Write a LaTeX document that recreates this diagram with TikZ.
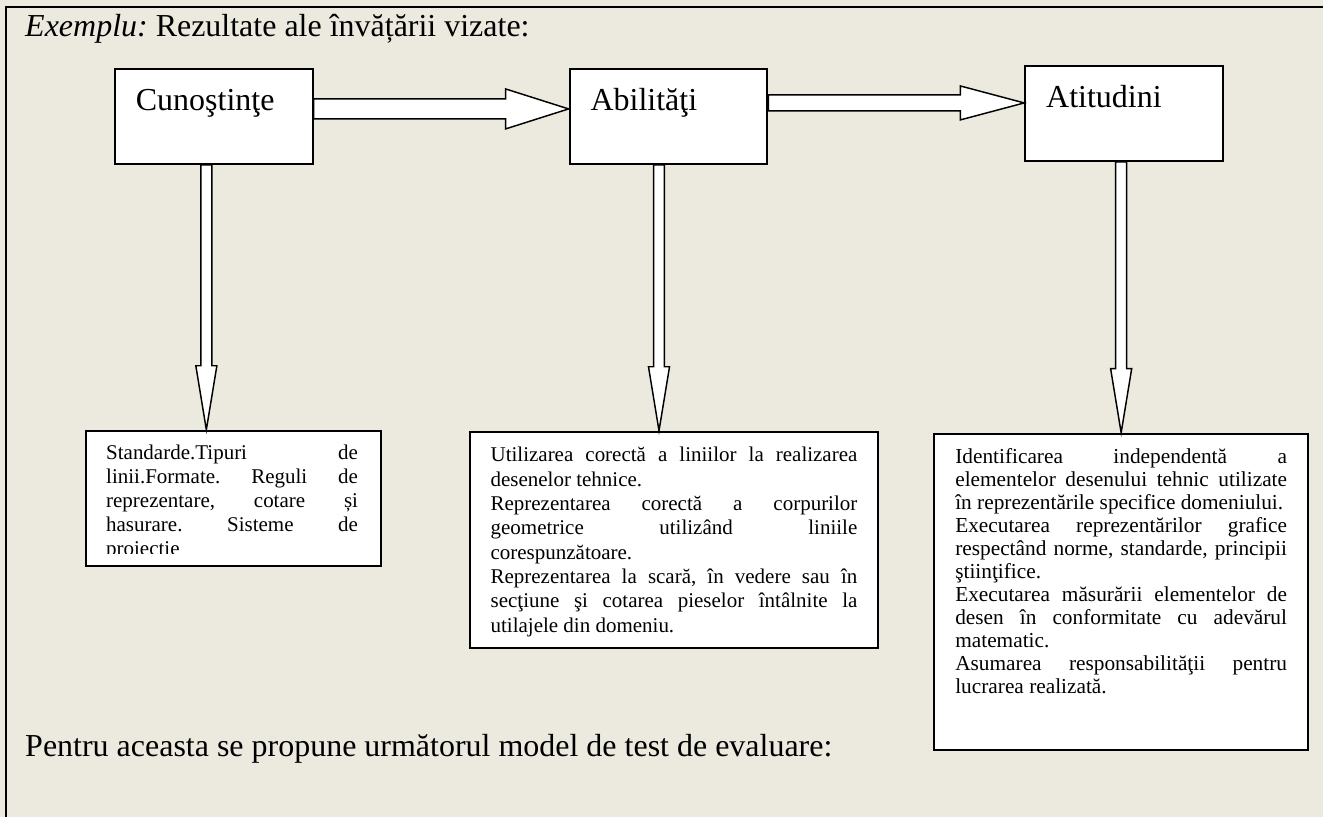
\documentclass[tikz,border=0pt]{standalone}
\usepackage{fontspec}
\setmainfont{Liberation Serif}
\usetikzlibrary{calc, positioning}

\definecolor{paper}{RGB}{236,233,223}
\frenchspacing
\setlength{\parindent}{0pt}
\tolerance=10000
\hbadness=10000
\hyphenpenalty=10000

\begin{document}
\begin{tikzpicture}[
    x=0.75pt, y=-0.75pt,
    font=\fontsize{24pt}{28pt}\selectfont,
    head/.style={draw, line width=1.5pt, fill=white, text width=117pt, align=left,
      inner xsep=15.75pt, inner ysep=0pt, text height=31.1pt, text depth=40.1pt},
    body/.style={anchor=north west, inner xsep=15.75pt, inner ysep=0pt, align=justify,
      font=\fontsize{15.75pt}{18pt}\selectfont,
      execute at begin node={\rule{0pt}{22.5pt}}},
    txtbox/.style={body, draw, line width=1.5pt, fill=white},
    % hollow block arrow: shaft half width, head half width, head length
    hollow/.style n args={3}{draw, line width=1.1pt, fill=white, line join=miter,
      to path={
        ($(\tikztotarget)!#3!(\tikztostart)$) coordinate (hb)
        ($(\tikztostart)!#1!90:(\tikztotarget)$)
        -- ($(hb)!#1!90:(\tikztotarget)$) -- ($(hb)!#2!90:(\tikztotarget)$)
        -- (\tikztotarget)
        -- ($(hb)!#2!-90:(\tikztotarget)$) -- ($(hb)!#1!-90:(\tikztotarget)$)
        -- ($(\tikztostart)!#1!-90:(\tikztotarget)$) -- cycle}}
  ]

  \fill[paper] (0,0) rectangle (1324,818);
  \draw[line width=1.5pt] (6,818) -- (6,6.5) -- (1324,6.5);

  \node[anchor=base west, inner sep=0pt] (title) at (25,37)
    {\textit{Exemplu:} Rezultate ale învățării vizate:};

  \node[head, anchor=north west] (cuno) at (114,68) {Cunoştinţe};
  \node[head, right=191.25pt of cuno] (abil) {Abilităţi};
  \node[head, right=192pt of abil, yshift=2.25pt] (atit) {Atitudini};

  % descriptions
  \node[draw, line width=1.5pt, fill=white, anchor=north west, inner sep=0pt,
    minimum width=221.25pt, minimum height=101.25pt] (txtA) at (85,430) {};
  \begin{scope}
    \clip (txtA.north west) rectangle ([yshift=9.75pt]txtA.south east);
    \node[body, text width=189pt] (txtAbody) at (txtA.north west)
      {Standarde.Tipuri de\linebreak linii.Formate. Reguli de\linebreak
       reprezentare, cotare și\linebreak hasurare. Sisteme de\linebreak proiectie};
  \end{scope}

  \node[txtbox, text width=275.25pt, font=\fontsize{15.75pt}{18.3pt}\selectfont] (txtB) at (469,431)
    {Utilizarea corectă a liniilor la realizarea\linebreak desenelor tehnice.\par
     Reprezentarea corectă a corpurilor\linebreak geometrice utilizând liniile\linebreak corespunzătoare.\par
     Reprezentarea la scară, în vedere sau în\linebreak secţiune şi cotarea pieselor întâlnite la\linebreak
     utilajele din domeniu.\rule[-12pt]{0pt}{12pt}};

  \node[txtbox, text width=249pt, font=\fontsize{16pt}{17.25pt}\selectfont] (txtC) at (934,433)
    {Identificarea independentă a\linebreak elementelor desenului tehnic utilizate\linebreak
     în reprezentările specifice domeniului.\par
     Executarea reprezentărilor grafice\linebreak respectând norme, standarde, principii\linebreak ştiinţifice.\par
     Executarea măsurării elementelor de\linebreak desen în conformitate cu adevărul\linebreak matematic.\par
     Asumarea responsabilităţii pentru\linebreak lucrarea realizată.\rule[-42.75pt]{0pt}{42.75pt}};

  \draw[hollow={7.5pt}{15pt}{47.25pt}] (cuno.east |- 0,109) to (abil.west |- 0,109);
  \draw[hollow={6pt}{12.75pt}{48pt}] (abil.east |- 0,103) to (atit.west |- 0,103);

  \draw[hollow={4.1pt}{7.9pt}{48pt}] (cuno.south -| 206.5,0) to (txtA.north -| 206.5,0);
  \draw[hollow={4.1pt}{7.9pt}{48pt}] (abil.south -| 659.5,0) to (txtB.north -| 659.5,0);
  \draw[hollow={4.1pt}{7.9pt}{48pt}] (atit.south -| 1122,0) to (txtC.north -| 1122,0);

  \node[anchor=base west, inner sep=0pt] (next) at (25,757)
    {Pentru aceasta se propune următorul model de test de evaluare:};

\end{tikzpicture}
\end{document}
